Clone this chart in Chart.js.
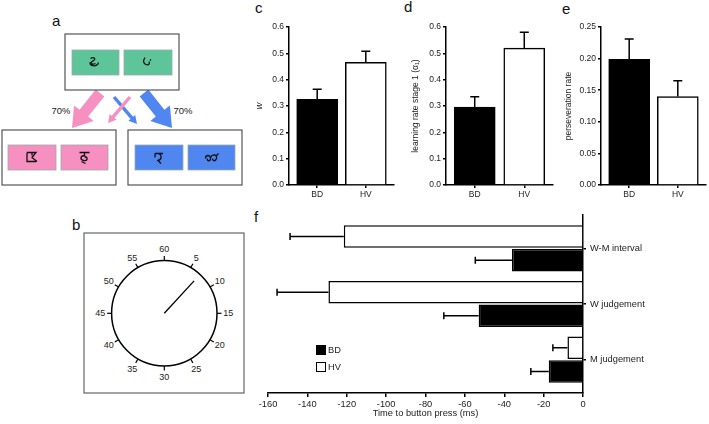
<!DOCTYPE html>
<html>
<head>
<meta charset="utf-8">
<script src="https://cdn.jsdelivr.net/npm/chart.js@4.4.1/dist/chart.umd.min.js"></script>
<style>
    html, body { margin: 0; padding: 0; background: #fff; }
    #page { position: relative; width: 709px; height: 424px; overflow: hidden; font-family: 'Liberation Sans', Arial, sans-serif; }
    #page canvas, #page svg, .abs { position: absolute; }
    .legbox { width: 10px; height: 10px; box-sizing: border-box; border: 1.5px solid #000; }
    .legtxt { font-size: 9.3px; color: #222; line-height: 10px; }
</style>
</head>
<body>
<div id="page">
    <svg id="art" width="709" height="424" style="left:0;top:0"></svg>
    <canvas id="chartC" width="150" height="210" style="left:250px;top:0"></canvas>
    <canvas id="chartD" width="160" height="210" style="left:400px;top:0"></canvas>
    <canvas id="chartE" width="149" height="210" style="left:560px;top:0"></canvas>
    <canvas id="chartF" width="459" height="219" style="left:250px;top:205px"></canvas>
    <div class="abs legbox" style="left:316px;top:345px;background:#000"></div>
    <div class="abs legtxt" style="left:328px;top:345px">BD</div>
    <div class="abs legbox" style="left:316px;top:362px;background:#fff"></div>
    <div class="abs legtxt" style="left:328px;top:362px">HV</div>
</div>
<script>
// --- данные ---
const groups = ['BD', 'HV'];
const wValues = [0.325, 0.466];
const wErrors = [0.039, 0.042];
const alphaValues = [0.296, 0.520];
const alphaErrors = [0.039, 0.060];
const persevValues = [0.199, 0.140];
const persevErrors = [0.032, 0.025];

const timingLabels = ['W-M interval', 'W judgement', 'M judgement'];
const timingHV = [-121.5, -129.3, -7.9];
const timingHVErr = [27.3, 26.1, 7.4];
const timingBD = [-36.1, -53.0, -17.4];
const timingBDErr = [18.6, 17.7, 9.1];

const clockMarks = [60, 5, 10, 15, 20, 25, 30, 35, 40, 45, 50, 55];
const handMinute = 7.1;

const FONT = "'Liberation Sans', Arial, sans-serif";
const tickFont = { family: FONT, size: 8.5 };

// error bars drawn away from zero, one side only
const errorBars = {
    id: 'errorBars',
    afterDatasetsDraw(chart) {
        const ctx = chart.ctx;
        const horizontal = chart.options.indexAxis === 'y';
        const valueScale = horizontal ? chart.scales.x : chart.scales.y;
        chart.data.datasets.forEach((ds, di) => {
            const meta = chart.getDatasetMeta(di);
            meta.data.forEach((bar, i) => {
                const raw = ds.data[i];
                const v = horizontal ? raw.x : raw.y;
                const end = valueScale.getPixelForValue(v + Math.sign(v) * ds.errors[i]);
                ctx.save();
                ctx.strokeStyle = '#000';
                ctx.lineWidth = 1.5;
                ctx.beginPath();
                if (horizontal) {
                    ctx.moveTo(bar.x, bar.y); ctx.lineTo(end, bar.y);
                    ctx.moveTo(end, bar.y - 3.5); ctx.lineTo(end, bar.y + 3.5);
                } else {
                    ctx.moveTo(bar.x, bar.y); ctx.lineTo(bar.x, end);
                    ctx.moveTo(bar.x - 4.5, end); ctx.lineTo(bar.x + 4.5, end);
                }
                ctx.stroke();
                ctx.restore();
            });
        });
    }
};

const axisGrid = { drawOnChartArea: false, offset: false, tickLength: 3, color: '#000', lineWidth: 1.5 };
const axisBorder = { color: '#000', width: 1.5 };

function barPanel(id, values, errors, cfg) {
    return new Chart(document.getElementById(id), {
        type: 'bar',
        data: {
            datasets: [{
                data: values.map((v, i) => ({ x: i + 1, y: v })),
                errors: errors,
                backgroundColor: ['#000', '#fff'],
                borderColor: '#000',
                borderWidth: 1.5,
                barThickness: 41
            }]
        },
        options: {
            responsive: false,
            animation: false,
            events: [],
            layout: { padding: { top: 27, right: cfg.padRight, left: 0, bottom: 0 } },
            plugins: { legend: { display: false }, tooltip: { enabled: false } },
            scales: {
                x: {
                    type: 'linear', offset: false, min: 0.42, max: 2.58,
                    afterBuildTicks: s => { s.ticks = [{ value: 1 }, { value: 2 }]; },
                    afterFit: s => { s.height = 25; },
                    ticks: { callback: v => groups[v - 1], font: tickFont, color: '#222', padding: 2, autoSkip: false, maxRotation: 0 },
                    grid: axisGrid,
                    border: axisBorder
                },
                y: {
                    min: 0, max: cfg.max,
                    afterFit: s => { s.width = cfg.axisWidth; },
                    ticks: { stepSize: cfg.step, callback: v => v.toFixed(cfg.digits), font: tickFont, color: '#222', padding: 2 },
                    grid: axisGrid,
                    border: axisBorder,
                    title: {
                        display: true, text: cfg.title, color: '#222',
                        font: { family: FONT, size: cfg.titleSize || 8.5, style: cfg.italic ? 'italic' : 'normal' },
                        padding: { top: cfg.titlePad, bottom: 0 }
                    }
                }
            }
        },
        plugins: [errorBars]
    });
}

barPanel('chartC', wValues, wErrors, { max: 0.6, step: 0.1, digits: 1, axisWidth: 39, padRight: 6, title: 'w', italic: true, titleSize: 9, titlePad: 4 });
barPanel('chartD', alphaValues, alphaErrors, { max: 0.6, step: 0.1, digits: 1, axisWidth: 46, padRight: 7, title: 'learning rate stage 1 (α₁)', titlePad: 10.9 });
barPanel('chartE', persevValues, persevErrors, { max: 0.25, step: 0.05, digits: 2, axisWidth: 41, padRight: 3, title: 'perseveration rate', titlePad: 3.9 });

// panel f
new Chart(document.getElementById('chartF'), {
    type: 'bar',
    data: {
        datasets: [
            { label: 'HV', data: timingHV.map((v, i) => ({ x: v, y: i + 1 })), errors: timingHVErr,
              backgroundColor: '#fff', borderColor: '#000', borderWidth: 1.5, categoryPercentage: 0.85, barPercentage: 0.95 },
            { label: 'BD', data: timingBD.map((v, i) => ({ x: v, y: i + 1 })), errors: timingBDErr,
              backgroundColor: '#000', borderColor: '#000', borderWidth: 1.5, categoryPercentage: 0.85, barPercentage: 0.95 }
        ]
    },
    options: {
        indexAxis: 'y',
        responsive: false,
        animation: false,
        events: [],
        layout: { padding: { top: 10, left: 18, right: 0, bottom: 0 } },
        plugins: { legend: { display: false }, tooltip: { enabled: false } },
        scales: {
            x: {
                min: -160, max: 0,
                afterFit: s => { s.height = 31; },
                ticks: { stepSize: 20, font: { family: FONT, size: 9.3 }, color: '#222', padding: 2, maxRotation: 0 },
                grid: { drawOnChartArea: false, tickLength: 4, color: '#000', lineWidth: 1.5 },
                border: axisBorder,
                title: { display: true, text: 'Time to button press (ms)', color: '#222',
                         font: { family: FONT, size: 9.3 }, padding: { top: 0, bottom: 5 } }
            },
            y: {
                type: 'linear', position: 'right', reverse: true, offset: false, min: 0.4, max: 3.6,
                afterBuildTicks: s => { s.ticks = timingLabels.map((_, i) => ({ value: i + 1 })); },
                afterFit: s => { s.width = 126; },
                ticks: { callback: v => timingLabels[v - 1], font: { family: FONT, size: 9.3 }, color: '#222', padding: 4, autoSkip: false },
                grid: axisGrid,
                border: axisBorder
            }
        }
    },
    plugins: [errorBars]
});

// --- panels a, b (schematics) ---
const svgNS = 'http://www.w3.org/2000/svg';
const art = document.getElementById('art');
function el(tag, attrs, text) {
    const e = document.createElementNS(svgNS, tag);
    for (const k in attrs) e.setAttribute(k, attrs[k]);
    if (text !== undefined) e.textContent = text;
    art.appendChild(e);
    return e;
}

function arrow(tail, tip, bodyW, headW, headL, color) {
    const dx = tip[0] - tail[0], dy = tip[1] - tail[1];
    const len = Math.hypot(dx, dy);
    const ux = dx / len, uy = dy / len, nx = -uy, ny = ux;
    const bx = tip[0] - ux * headL, by = tip[1] - uy * headL;
    const p = (x, y, w) => [x + nx * w, y + ny * w];
    const pts = [p(tail[0], tail[1], bodyW / 2), p(bx, by, bodyW / 2), p(bx, by, headW / 2), tip,
                 p(bx, by, -headW / 2), p(bx, by, -bodyW / 2), p(tail[0], tail[1], -bodyW / 2)];
    el('polygon', { points: pts.map(q => q.map(n => n.toFixed(1)).join(',')).join(' '), fill: color });
}

const GREEN = '#5ec59b', PINK = '#f590c0', BLUE = '#4f86ef';

arrow([100, 93], [72, 128], 11, 25, 19, PINK);
arrow([144, 93], [172, 128], 11, 25, 19, BLUE);
arrow([114, 97], [137, 124], 3.5, 9, 8, BLUE);
arrow([130, 97], [108, 123], 3.5, 9, 8, PINK);

const glyphs = [
    'M-5,-4 c3,-2 6,0 3,2 c-3,2 -5,4 -1,5 c3,1 6,-1 6,-3 M-6,0 c2,2 4,2 6,1',
    'M-3,-5 c-2,3 -2,6 1,7 c3,1 4,-1 3,-3 M2,-3 l1,1',
    'M-5,-5 l0,9 l9,0 M-5,-5 l9,0 l-4,5 l5,4 M0,-5 l0,3',
    'M-5,-5 l10,0 M0,-5 l0,3 c-4,0 -5,4 -1,5 c4,1 5,-3 1,-4 M-3,4 l4,2',
    'M-4,-4 l8,0 M-4,-4 l0,4 M0,-4 c3,2 3,6 -1,7 l3,3',
    'M-6,1 c0,-4 5,-4 5,0 c0,3 -4,3 -3,0 M-1,0 c2,-4 7,-3 6,1 c-1,3 -4,3 -4,0 M5,-2 l2,-2'
];

function stimBox(x, y, w, h, fill, glyph) {
    el('rect', { x: x, y: y, width: w, height: h, fill: fill, stroke: '#9aa', 'stroke-width': 0.8 });
    el('path', { d: glyph, transform: `translate(${x + w / 2},${y + h / 2})`, fill: 'none', stroke: '#111', 'stroke-width': 1.3 });
}

el('rect', { x: 65, y: 34, width: 114, height: 56, fill: '#fff', stroke: '#555', 'stroke-width': 1.2 });
stimBox(72, 50, 47, 25, GREEN, glyphs[0]);
stimBox(124, 50, 48, 25, GREEN, glyphs[1]);
el('rect', { x: 2, y: 130, width: 114, height: 55, fill: '#fff', stroke: '#555', 'stroke-width': 1.2 });
stimBox(8, 145, 48, 25, PINK, glyphs[2]);
stimBox(61, 145, 47, 25, PINK, glyphs[3]);
el('rect', { x: 128, y: 130, width: 114, height: 55, fill: '#fff', stroke: '#555', 'stroke-width': 1.2 });
stimBox(135, 145, 48, 25, BLUE, glyphs[4]);
stimBox(188, 145, 47, 25, BLUE, glyphs[5]);

const txt = { 'font-family': FONT, fill: '#222', 'text-anchor': 'middle', 'dominant-baseline': 'central' };
el('text', { ...txt, x: 61, y: 110, 'font-size': 9.5 }, '70%');
el('text', { ...txt, x: 183, y: 110, 'font-size': 9.5 }, '70%');

// panel b: clock
const cx = 164.3, cy = 313.3, r = 52.7;
el('rect', { x: 84, y: 233, width: 160, height: 160, fill: '#fff', stroke: '#666', 'stroke-width': 1.2 });
el('circle', { cx: cx, cy: cy, r: r, fill: 'none', stroke: '#000', 'stroke-width': 1.5 });
clockMarks.forEach(m => {
    const a = (m % 60) / 60 * 2 * Math.PI;
    const sx = Math.sin(a), sy = -Math.cos(a);
    el('line', { x1: cx + sx * r, y1: cy + sy * r, x2: cx + sx * (r + 4.5), y2: cy + sy * (r + 4.5), stroke: '#000', 'stroke-width': 1.2 });
    el('text', { ...txt, x: cx + sx * 64, y: cy + sy * 64, 'font-size': 9 }, String(m));
});
const ha = handMinute / 60 * 2 * Math.PI;
el('line', { x1: cx, y1: cy, x2: cx + Math.sin(ha) * 44, y2: cy - Math.cos(ha) * 44, stroke: '#000', 'stroke-width': 1.3 });

// panel letters
const letter = { 'font-family': FONT, fill: '#111', 'font-size': 15 };
el('text', { ...letter, x: 52, y: 26 }, 'a');
el('text', { ...letter, x: 72, y: 230 }, 'b');
el('text', { ...letter, x: 255, y: 13 }, 'c');
el('text', { ...letter, x: 404, y: 12 }, 'd');
el('text', { ...letter, x: 562, y: 13.5 }, 'e');
el('text', { ...letter, x: 254, y: 222 }, 'f');
</script>
</body>
</html>
